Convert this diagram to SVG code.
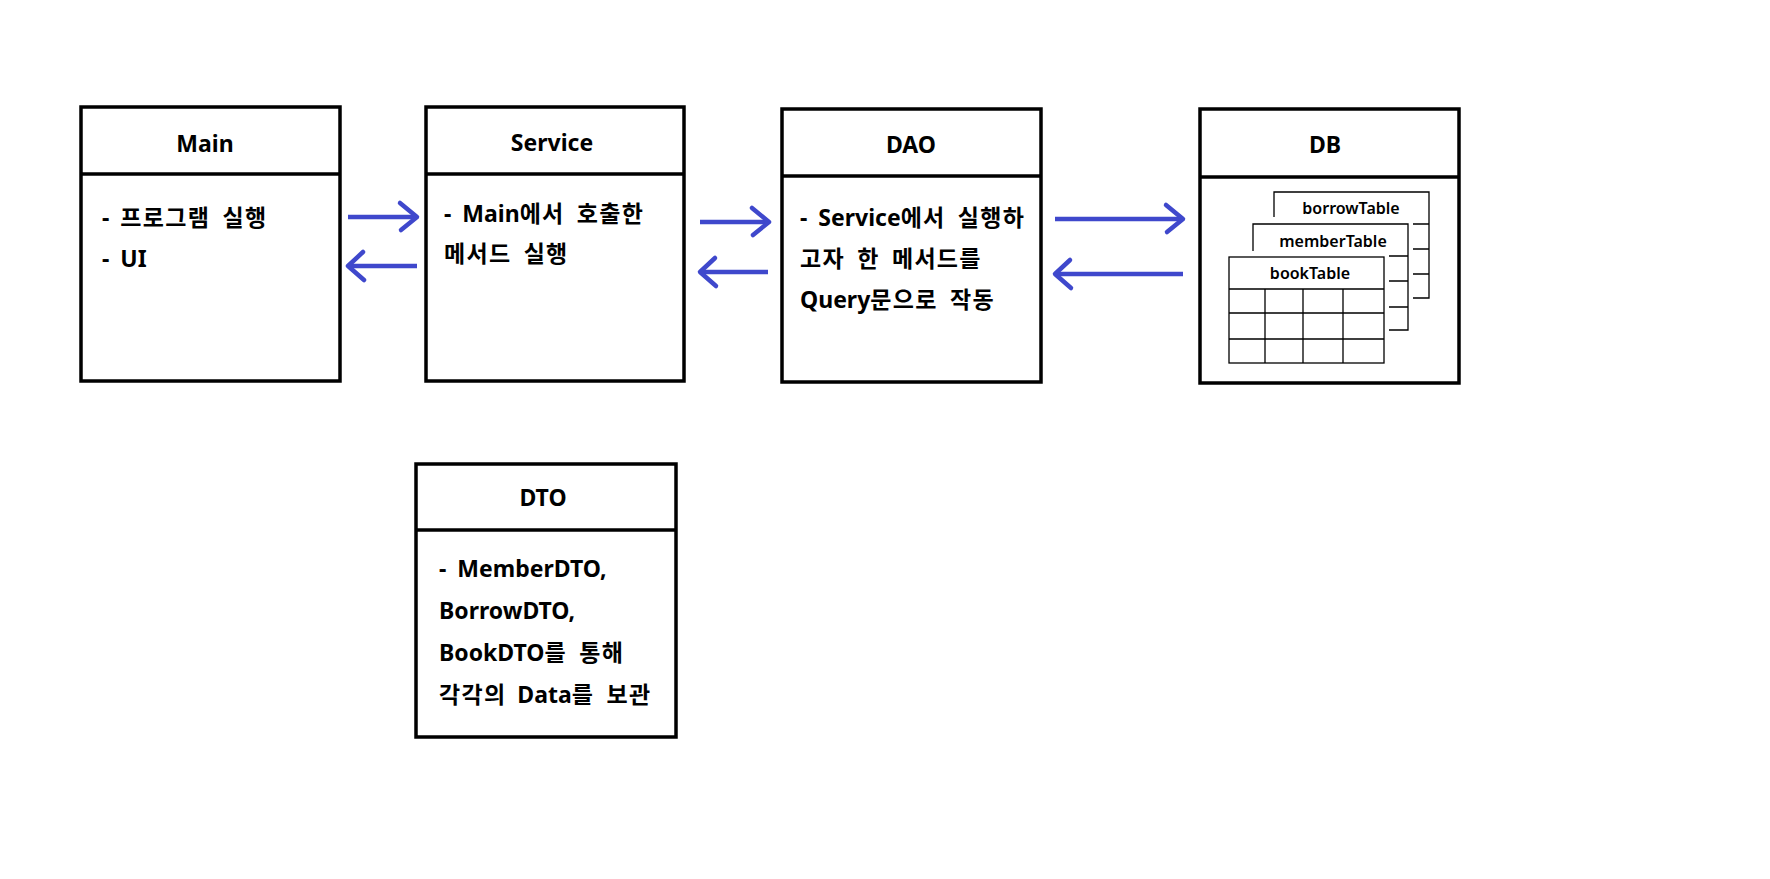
<svg xmlns="http://www.w3.org/2000/svg" width="1770" height="879" viewBox="0 0 1770 879">
<style>
.box{fill:#fff;stroke:#000;stroke-width:3.5}
.hdr{stroke:#000;stroke-width:3.5}
.t{font-family:"Noto Sans","Noto Sans CJK KR",sans-serif;font-weight:bold;fill:#000}
.title{font-size:23px;text-anchor:middle}
.body{font-size:23px;word-spacing:5px}
.k{letter-spacing:1.3px}
.tbl{fill:#fff;stroke:#000;stroke-width:1.3}
.ln{stroke:#000;stroke-width:1.3;fill:none}
.tt{font-family:"Noto Sans","Noto Sans CJK KR",sans-serif;font-size:16px;font-weight:600;text-anchor:middle;fill:#000}
.shaft{stroke:#3F48CC;stroke-width:4.5;fill:none}
.head{stroke:#3F48CC;stroke-width:4.5;fill:none;stroke-linecap:round;stroke-linejoin:round}
</style>
<rect width="1770" height="879" fill="#fff"/>
<g id="main">
<rect class="box" x="81" y="107" width="259" height="274"/>
<line class="hdr" x1="81" y1="174" x2="340" y2="174"/>
<text class="t title" x="205" y="152">Main</text>
<text class="t body" x="102" y="226">- <tspan class="k">프로그램 실행</tspan></text>
<text class="t body" x="102" y="267">- UI</text>
</g>
<g id="service">
<rect class="box" x="426" y="107" width="258" height="274"/>
<line class="hdr" x1="426" y1="174" x2="684" y2="174"/>
<text class="t title" x="552" y="151">Service</text>
<text class="t body" x="444" y="222">- Main<tspan class="k">에서 호출한</tspan></text>
<text class="t body k" x="444" y="262">메서드 실행</text>
</g>
<g id="dao">
<rect class="box" x="782" y="109" width="259" height="273"/>
<line class="hdr" x1="782" y1="176" x2="1041" y2="176"/>
<text class="t title" x="911" y="153">DAO</text>
<text class="t body" x="800" y="226">- Service<tspan class="k">에서 실행하</tspan></text>
<text class="t body k" x="800" y="267">고자 한 메서드를</text>
<text class="t body" x="800" y="308">Query<tspan class="k">문으로 작동</tspan></text>
</g>
<g id="db">
<rect class="box" x="1200" y="109" width="259" height="274"/>
<line class="hdr" x1="1200" y1="177" x2="1459" y2="177"/>
<text class="t title" x="1325" y="153">DB</text>
<g id="borrowTable">
<path class="ln" d="M1274,217 V192 H1429 V298 H1413 M1413,224 H1429 M1413,249 H1429 M1413,274 H1429"/>
<text class="tt" x="1351" y="214">borrowTable</text>
</g>
<g id="memberTable">
<path class="ln" d="M1253,251 V224 H1408 V330 H1389 M1389,256 H1408 M1389,281 H1408 M1389,307 H1408"/>
<text class="tt" x="1333" y="247">memberTable</text>
</g>
<g id="bookTable">
<rect class="tbl" x="1229" y="257" width="155" height="106"/>
<path class="ln" d="M1229,289 H1384 M1229,313 H1384 M1229,339 H1384 M1265,289 V363 M1303,289 V363 M1343,289 V363"/>
<text class="tt" x="1310" y="279">bookTable</text>
</g>
</g>
<g id="dto">
<rect class="box" x="416" y="464" width="260" height="273"/>
<line class="hdr" x1="416" y1="530" x2="676" y2="530"/>
<text class="t title" x="543" y="506">DTO</text>
<text class="t body" x="439" y="577">- MemberDTO,</text>
<text class="t body" x="439" y="619">BorrowDTO,</text>
<text class="t body" x="439" y="661">BookDTO<tspan class="k">를 통해</tspan></text>
<text class="t body" x="439" y="703"><tspan class="k">각각의</tspan> Data<tspan class="k">를 보관</tspan></text>
</g>
<g id="connectors">
<line class="shaft" x1="348" y1="217" x2="416" y2="217"/>
<polyline class="head" points="400,203 417,217 401,230"/>
<line class="shaft" x1="417" y1="266" x2="349" y2="266"/>
<polyline class="head" points="363,252 348,266 364,280"/>
<line class="shaft" x1="700" y1="222" x2="768" y2="222"/>
<polyline class="head" points="752,208 769,222 753,235"/>
<line class="shaft" x1="768" y1="272" x2="701" y2="272"/>
<polyline class="head" points="715,258 700,272 716,286"/>
<line class="shaft" x1="1055" y1="219" x2="1182" y2="219"/>
<polyline class="head" points="1166,205 1183,219 1167,232"/>
<line class="shaft" x1="1183" y1="274" x2="1056" y2="274"/>
<polyline class="head" points="1070,260 1055,274 1071,288"/>
</g>
</svg>
